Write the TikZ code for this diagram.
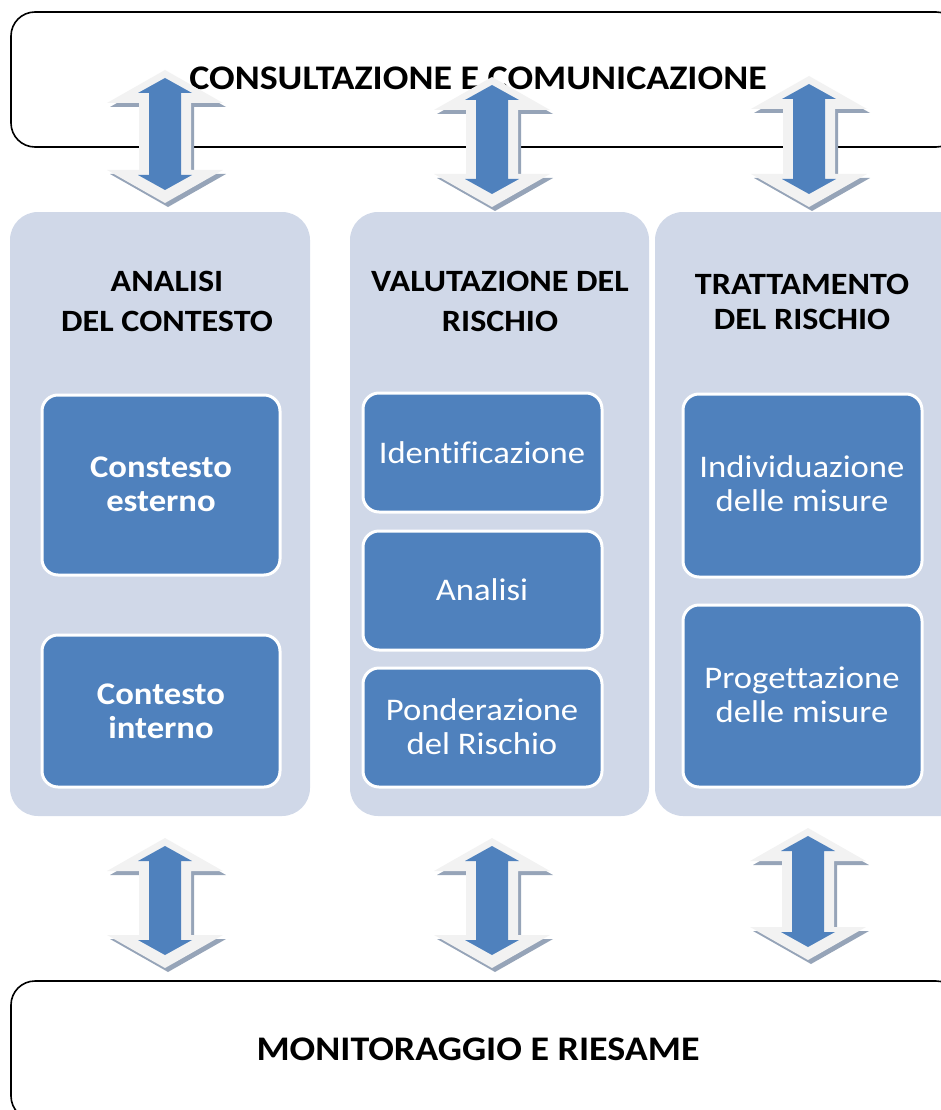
\documentclass[tikz,border=0pt]{standalone}
\usepackage{fontspec}
\setmainfont[FakeStretch=1.1,Ligatures=NoCommon]{Carlito}
\definecolor{colfill}{RGB}{208,216,232}
\definecolor{boxfill}{RGB}{79,129,189}
\definecolor{arrout}{RGB}{242,242,242}
\definecolor{arrshad}{RGB}{150,164,184}
\tikzset{
  frame/.style={draw=black, line width=1.6pt, fill=white, rounded corners=24pt},
  column/.style={fill=colfill, rounded corners=28pt},
  inbox/.style={fill=boxfill, draw=white, line width=3pt, rounded corners=16pt},
  bigtitle/.style={font=\fontsize{34.5}{40}\selectfont\bfseries, text=black},
  coltitle/.style={font=\fontsize{31}{40}\selectfont\bfseries, align=center, text=black},
  boxtext/.style={font=\fontsize{31.5}{34}\selectfont, align=center, text=white},
  boxbold/.style={font=\fontsize{31.5}{34}\selectfont\bfseries, align=center, text=white},
}
% double block arrow: center x, outer top y, outer bottom y
\newcommand\dblarr[3]{%
  \fill[arrshad] ({#1+3},{#2+4}) -- ({#1+61},{#2+37}) -- ({#1+29},{#2+37}) -- ({#1+29},{#3-29}) -- ({#1+61},{#3-29}) -- ({#1+3},{#3+4}) -- ({#1-55},{#3-29}) -- ({#1-23},{#3-29}) -- ({#1-23},{#2+37}) -- ({#1-55},{#2+37}) -- cycle;
  \fill[arrout] (#1,#2) -- ({#1+58},{#2+33}) -- ({#1+26},{#2+33}) -- ({#1+26},{#3-33}) -- ({#1+58},{#3-33}) -- (#1,#3) -- ({#1-58},{#3-33}) -- ({#1-26},{#3-33}) -- ({#1-26},{#2+33}) -- ({#1-58},{#2+33}) -- cycle;
  \fill[boxfill] (#1,{#2+8}) -- ({#1+27},{#2+23}) -- ({#1+16},{#2+23}) -- ({#1+16},{#3-28}) -- ({#1+27},{#3-28}) -- (#1,{#3-13}) -- ({#1-27},{#3-28}) -- ({#1-16},{#3-28}) -- ({#1-16},{#2+23}) -- ({#1-27},{#2+23}) -- cycle;
}
\begin{document}
\begin{tikzpicture}[x=1pt,y=-1pt]
\useasboundingbox (0,0) rectangle (940,1110);
% top frame
\draw[frame] (11,12) rectangle (960,147);
\node[bigtitle] (cons) at (478,78) {CONSULTAZIONE E COMUNICAZIONE};
% bottom frame
\draw[frame] (11,981) rectangle (960,1120);
\node[bigtitle] (mon) at (478,1049) {MONITORAGGIO E RIESAME};
% columns
\fill[column] (10,212) rectangle (310,816);
\fill[column] (350,212) rectangle (649,816);
\fill[column] (655,212) rectangle (970,816);
\node[coltitle] (t1) at (167,301) {ANALISI\\DEL CONTESTO};
\node[coltitle] (t2) at (500,301) {VALUTAZIONE DEL\\RISCHIO};
\node[coltitle, font=\fontsize{31}{35}\selectfont\bfseries] (t3) at (802,302) {TRATTAMENTO\\DEL RISCHIO};
% left boxes
\draw[inbox] (42,395) rectangle (280,575);
\node[boxbold] (a1) at (161,484) {Constesto\\esterno};
\draw[inbox] (42,635) rectangle (280,787);
\node[boxbold] (a2) at (161,711) {Contesto\\interno};
% middle boxes
\draw[inbox] (363,393) rectangle (602,512);
\node[boxtext] (b1) at (482,453) {Identificazione};
\draw[inbox] (363,531) rectangle (602,650);
\node[boxtext] (b2) at (482,590) {Analisi};
\draw[inbox] (363,668) rectangle (602,787);
\node[boxtext] (b3) at (482,727) {Ponderazione\\del Rischio};
% right boxes
\draw[inbox] (683,394) rectangle (922,577);
\node[boxtext] (c1) at (802,484) {Individuazione\\delle misure};
\draw[inbox] (683,605) rectangle (922,787);
\node[boxtext] (c2) at (802,695) {Progettazione\\delle misure};
% arrows
\dblarr{165}{70}{203}
\dblarr{492}{77}{207}
\dblarr{809}{76}{207}
\dblarr{165}{838}{968}
\dblarr{492}{838}{968}
\dblarr{808}{828}{960}
\end{tikzpicture}
\end{document}
